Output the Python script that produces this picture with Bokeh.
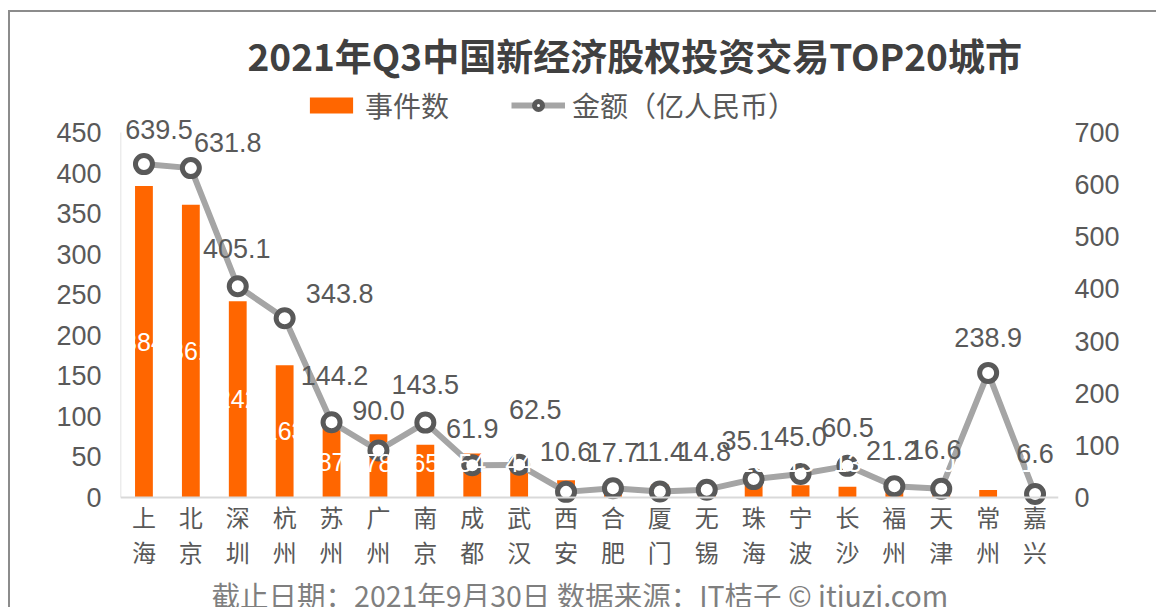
import numpy as np
from bokeh.plotting import figure
from bokeh.models import (Range1d, LinearAxis, FixedTicker, Legend, LegendItem,
                          ColumnDataSource, Span, Title)
from bokeh.embed import file_html
from bokeh.resources import INLINE
from bokeh.core.properties import value

# ---------------- data ----------------
cities = ["上海", "北京", "深圳", "杭州", "苏州", "广州", "南京", "成都", "武汉", "西安",
          "合肥", "厦门", "无锡", "珠海", "宁波", "长沙", "福州", "天津", "常州", "嘉兴"]
events = [384, 361, 242, 163, 87, 78, 65, 54, 44, 21,
          17, 16, 15, 15, 15, 13, 12, 10, 9, 10]
amount = [639.5, 631.8, 405.1, 343.8, 144.2, 90.0, 143.5, 61.9, 62.5, 10.6,
          17.7, 11.4, 14.8, 35.1, 45.0, 60.5, 21.2, 16.6, 238.9, 6.6]
left_ticks = [0, 50, 100, 150, 200, 250, 300, 350, 400, 450]
right_ticks = [0, 100, 200, 300, 400, 500, 600, 700]

# label placement (screen-pixel nudges, style only)
lab_dx = [15, 37, -1, 55, 3, 0, 0, 0, 16, 0, 0, 0, -2, -6, 0, 0, -2, -6, 0, 0]
lab_dy = [-35, -26, -38, -25, -47, -40, -38, -37, -55, -40, -36, -40, -38, -39, -37, -38, -36, -39, -35, -40]

NUM_FONT = "Liberation Sans"
CJK_FONT = "Noto Sans CJK SC"
ORANGE = "#FF6600"

n = len(cities)
xs = [i + 0.5 for i in range(n)]
ratio = 700 / 450

src = ColumnDataSource(dict(
    x=xs, ev=events, amt=amount,
    ev_lab=[str(v) for v in events],
    ev_y=[max(v / 2, 42) for v in events],
    amt_lab=[f"{v:.1f}" for v in amount],
    dx=lab_dx, dy=lab_dy,
))

p = figure(frame_width=938, frame_height=421,
           min_border_left=110, min_border_right=98,
           min_border_top=72, min_border_bottom=100,
           x_range=Range1d(0, n), y_range=Range1d(-10, 509.3),
           output_backend="svg", toolbar_location=None,
           styles={"border-left": "2px solid #8c8c8c", "border-top": "2px solid #8c8c8c",
                   "margin-top": "10px", "margin-left": "8px"})
p.extra_y_ranges = {"amt": Range1d(-10 * ratio, 509.3 * ratio)}
p.outline_line_color = None
p.grid.visible = False
p.background_fill_color = "white"
p.border_fill_color = "white"

# title
p.title.text = "2021年Q3中国新经济股权投资交易TOP20城市"
p.title.align = "left"
p.title.offset = 127
p.title.text_font = CJK_FONT
p.title.text_font_size = "37px"
p.title.text_font_style = "bold"
p.title.text_color = "#404040"
p.title.standoff = 6

# axes
xa = p.xaxis[0]
xa.ticker = FixedTicker(ticks=xs)
xa.major_label_overrides = {x: "\n".join(list(c)) for x, c in zip(xs, cities)}
xa.axis_line_color = None
xa.major_tick_line_color = None
xa.minor_tick_line_color = None
xa.major_label_text_font = CJK_FONT
xa.major_label_text_font_size = "24px"
xa.major_label_text_line_height = 1.0
xa.major_label_text_color = "#595959"
xa.major_label_standoff = -13

ya = p.yaxis[0]
ya.ticker = FixedTicker(ticks=left_ticks)
ya.axis_line_color = None
ya.major_tick_line_color = None
ya.minor_tick_line_color = None
ya.major_label_text_font = NUM_FONT
ya.major_label_text_font_size = "27px"
ya.major_label_text_color = "#595959"
ya.major_label_standoff = 13

ra = LinearAxis(y_range_name="amt", ticker=FixedTicker(ticks=right_ticks))
ra.axis_line_color = None
ra.major_tick_line_color = None
ra.minor_tick_line_color = None
ra.major_label_text_font = NUM_FONT
ra.major_label_text_font_size = "27px"
ra.major_label_text_color = "#595959"
ra.major_label_standoff = 10
p.add_layout(ra, "right")

foot = Title(text="截止日期：2021年9月30日    数据来源：IT桔子 © itiuzi.com",
             align="center", text_font=CJK_FONT, text_font_size="28.5px",
             text_color="#7f7f7f", text_font_style="normal", standoff=0)
p.add_layout(foot, "below")

# baseline and left rule
p.add_layout(Span(location=0, dimension="width", line_color="#d9d9d9", line_width=2))
p.segment(x0=[0], y0=[0], x1=[0], y1=[left_ticks[-1]], line_color="#d9d9d9", line_width=1.5)

# bars
bars = p.vbar(x="x", top="ev", width=0.38, bottom=0, source=src,
              fill_color=ORANGE, line_color=None)

# line + markers
ln = p.line(x="x", y="amt", source=src, y_range_name="amt",
            line_color="#A5A5A5", line_width=6)
mk = p.scatter(x="x", y="amt", source=src, y_range_name="amt", size=17,
               fill_color="white", line_color="#595959", line_width=5)

# bar labels (white)
p.text(x="x", y="ev_y", text="ev_lab", source=src, text_color="white",
       text_font=value(NUM_FONT), text_font_size="25px",
       text_align="center", text_baseline="middle")

# amount labels
p.text(x="x", y="amt", text="amt_lab", source=src, y_range_name="amt",
       x_offset="dx", y_offset="dy", text_color="#595959",
       text_font=value(NUM_FONT), text_font_size="27px",
       text_align="center", text_baseline="middle")

legend = Legend(items=[LegendItem(label="事件数", renderers=[bars]),
                       LegendItem(label="金额（亿人民币）", renderers=[ln, mk])],
                location=(184, 380), orientation="horizontal",
                glyph_width=54, glyph_height=20, label_standoff=7, spacing=62,
                padding=0, margin=0, border_line_color=None, background_fill_alpha=0,
                label_text_font=CJK_FONT, label_text_font_size="28px",
                label_text_color="#595959")
p.add_layout(legend)

open("out.html", "w").write(file_html(p, INLINE))
